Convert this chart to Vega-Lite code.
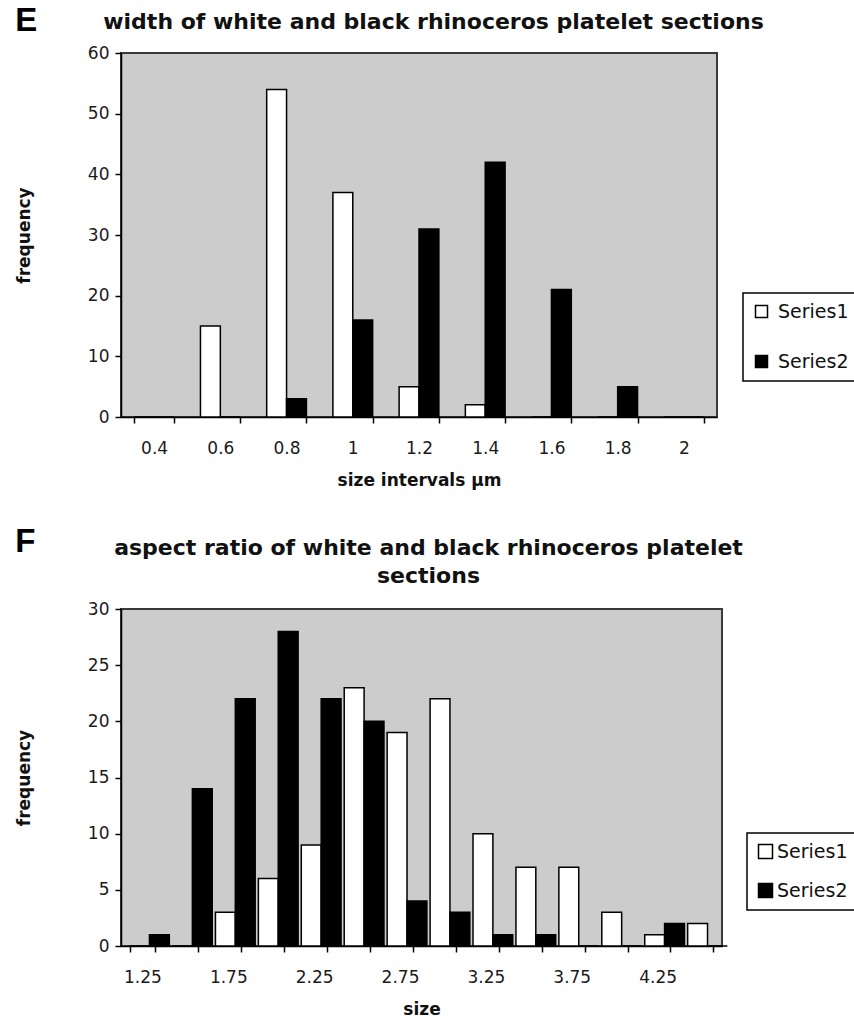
{
  "$schema": "https://vega.github.io/schema/vega-lite/v6.json",
  "background": "white",
  "padding": {"left": 14, "top": 4, "right": 0, "bottom": 0},
  "spacing": 36,
  "config": {
    "font": "DejaVu Sans",
    "view": {"fill": "#cccccc", "stroke": "#3a3a3a", "strokeWidth": 2},
    "axis": {"labelFont": "DejaVu Sans", "labelFontSize": 17, "labelColor": "#1a1a1a", "titleFont": "DejaVu Sans", "titleFontSize": 17, "titleFontWeight": "bold", "titleColor": "#111111", "domainColor": "black", "domainWidth": 1.5, "tickColor": "black", "tickWidth": 1.5, "tickSize": 6, "grid": false},
    "axisY": {"labelPadding": 6},
    "axisX": {"labelAngle": 0, "labelPadding": 17, "titlePadding": 16},
    "legend": {"orient": "none", "title": null, "strokeColor": "black", "strokeWidth": 1.5, "fillColor": "white", "symbolType": "square", "symbolStrokeColor": "black", "symbolStrokeWidth": 1.5, "labelFont": "DejaVu Sans", "labelFontSize": 19, "labelColor": "#111111"}
  },
  "resolve": {"scale": {"fill": "independent", "x": "independent", "y": "independent"}, "legend": {"fill": "independent"}},
  "vconcat": [
    {
      "width": 596,
      "height": 364,
      "title": {"text": "E", "anchor": "start", "frame": "bounds", "font": "Liberation Sans", "fontSize": 33, "fontWeight": "bold", "offset": -28, "color": "black"},
      "data": {"values": [
        {"interval": 0.4, "series": "Series1", "frequency": 0},
        {"interval": 0.4, "series": "Series2", "frequency": 0},
        {"interval": 0.6, "series": "Series1", "frequency": 15},
        {"interval": 0.6, "series": "Series2", "frequency": 0},
        {"interval": 0.8, "series": "Series1", "frequency": 54},
        {"interval": 0.8, "series": "Series2", "frequency": 3},
        {"interval": 1, "series": "Series1", "frequency": 37},
        {"interval": 1, "series": "Series2", "frequency": 16},
        {"interval": 1.2, "series": "Series1", "frequency": 5},
        {"interval": 1.2, "series": "Series2", "frequency": 31},
        {"interval": 1.4, "series": "Series1", "frequency": 2},
        {"interval": 1.4, "series": "Series2", "frequency": 42},
        {"interval": 1.6, "series": "Series1", "frequency": 0},
        {"interval": 1.6, "series": "Series2", "frequency": 21},
        {"interval": 1.8, "series": "Series1", "frequency": 0},
        {"interval": 1.8, "series": "Series2", "frequency": 5},
        {"interval": 2, "series": "Series1", "frequency": 0},
        {"interval": 2, "series": "Series2", "frequency": 0}
      ]},
      "layer": [
        {
          "mark": {"type": "bar", "stroke": "black", "strokeWidth": 1.5},
          "encoding": {
            "x": {"field": "interval", "type": "ordinal", "scale": {"paddingInner": 0.4, "paddingOuter": 0.2}, "axis": {"title": "size intervals µm", "tickBand": "extent"}},
            "xOffset": {"field": "series", "type": "nominal", "scale": {"domain": ["Series1", "Series2"], "paddingInner": 0, "paddingOuter": 0}},
            "y": {"field": "frequency", "type": "quantitative", "scale": {"domain": [0, 60], "nice": false}, "axis": {"title": "frequency", "values": [0, 10, 20, 30, 40, 50, 60], "titlePadding": 54}},
            "fill": {"field": "series", "type": "nominal", "scale": {"domain": ["Series1", "Series2"], "range": ["white", "black"]}, "legend": {"legendX": 622, "legendY": 240, "padding": 9, "symbolSize": 144, "labelOffset": 7, "rowPadding": 30}}
          }
        },
        {
          "mark": {"type": "bar", "opacity": 0},
          "encoding": {
            "x": {"field": "interval", "type": "ordinal", "axis": {"orient": "top", "title": "width of white and black rhinoceros platelet sections", "labels": false, "ticks": false, "domain": false, "titleX": 312, "titleY": -25, "titleAlign": "center", "titleBaseline": "alphabetic", "titleFontSize": 22}}
          }
        }
      ],
      "resolve": {"axis": {"x": "independent"}}
    },
    {
      "width": 601,
      "height": 337,
      "title": {"text": "F", "anchor": "start", "frame": "bounds", "font": "Liberation Sans", "fontSize": 33, "fontWeight": "bold", "offset": -23, "color": "black"},
      "data": {"values": [
        {"size": 1.25, "series": "Series1", "frequency": 0},
        {"size": 1.25, "series": "Series2", "frequency": 1},
        {"size": 1.5, "series": "Series1", "frequency": 0},
        {"size": 1.5, "series": "Series2", "frequency": 14},
        {"size": 1.75, "series": "Series1", "frequency": 3},
        {"size": 1.75, "series": "Series2", "frequency": 22},
        {"size": 2, "series": "Series1", "frequency": 6},
        {"size": 2, "series": "Series2", "frequency": 28},
        {"size": 2.25, "series": "Series1", "frequency": 9},
        {"size": 2.25, "series": "Series2", "frequency": 22},
        {"size": 2.5, "series": "Series1", "frequency": 23},
        {"size": 2.5, "series": "Series2", "frequency": 20},
        {"size": 2.75, "series": "Series1", "frequency": 19},
        {"size": 2.75, "series": "Series2", "frequency": 4},
        {"size": 3, "series": "Series1", "frequency": 22},
        {"size": 3, "series": "Series2", "frequency": 3},
        {"size": 3.25, "series": "Series1", "frequency": 10},
        {"size": 3.25, "series": "Series2", "frequency": 1},
        {"size": 3.5, "series": "Series1", "frequency": 7},
        {"size": 3.5, "series": "Series2", "frequency": 1},
        {"size": 3.75, "series": "Series1", "frequency": 7},
        {"size": 3.75, "series": "Series2", "frequency": 0},
        {"size": 4, "series": "Series1", "frequency": 3},
        {"size": 4, "series": "Series2", "frequency": 0},
        {"size": 4.25, "series": "Series1", "frequency": 1},
        {"size": 4.25, "series": "Series2", "frequency": 2},
        {"size": 4.5, "series": "Series1", "frequency": 2},
        {"size": 4.5, "series": "Series2", "frequency": 0}
      ]},
      "layer": [
        {
          "mark": {"type": "bar", "stroke": "black", "strokeWidth": 1.5},
          "encoding": {
            "x": {"field": "size", "type": "ordinal", "scale": {"paddingInner": 0.4, "paddingOuter": 0.2}, "axis": {"title": "size", "tickBand": "extent", "labelExpr": "indexof([1.25, 1.75, 2.25, 2.75, 3.25, 3.75, 4.25], datum.value) >= 0 ? datum.label : ''"}},
            "xOffset": {"field": "series", "type": "nominal", "scale": {"domain": ["Series1", "Series2"], "paddingInner": 0, "paddingOuter": 0}},
            "y": {"field": "frequency", "type": "quantitative", "scale": {"domain": [0, 30], "nice": false}, "axis": {"title": "frequency", "values": [0, 5, 10, 15, 20, 25, 30], "titlePadding": 54}},
            "fill": {"field": "series", "type": "nominal", "scale": {"domain": ["Series1", "Series2"], "range": ["white", "black"]}, "legend": {"legendX": 626, "legendY": 224, "padding": 9, "symbolSize": 196, "labelOffset": 2, "rowPadding": 18}}
          }
        },
        {
          "mark": {"type": "bar", "opacity": 0},
          "encoding": {
            "x": {"field": "size", "type": "ordinal", "axis": {"orient": "top", "title": ["aspect ratio of white and black rhinoceros platelet", "sections"], "labels": false, "ticks": false, "domain": false, "titleX": 307, "titleY": -55, "titleAlign": "center", "titleBaseline": "alphabetic", "titleFontSize": 22, "titleLineHeight": 28}}
          }
        }
      ],
      "resolve": {"axis": {"x": "independent"}}
    }
  ]
}
